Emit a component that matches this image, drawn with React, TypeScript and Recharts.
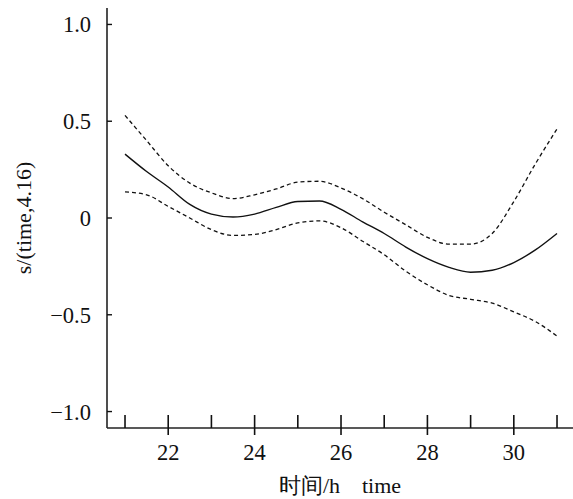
import { Line, LineChart, XAxis, YAxis } from "recharts";

const timeValues = [
  21, 21.5, 22, 22.5, 23, 23.5, 24, 24.5, 25, 25.5, 26, 26.5, 27, 27.5, 28, 28.5, 29, 29.5, 30,
  30.5, 31,
];

const fitValues = [
  0.33, 0.24, 0.16, 0.07, 0.02, 0.005, 0.02, 0.055, 0.085, 0.088, 0.045, -0.02, -0.08, -0.15,
  -0.21, -0.255, -0.28, -0.27, -0.23, -0.165, -0.08,
];

const upperValues = [
  0.53, 0.4, 0.27, 0.18, 0.13, 0.1, 0.12, 0.15, 0.185, 0.19, 0.155, 0.1, 0.03, -0.035, -0.1,
  -0.135, -0.135, -0.08, 0.085, 0.28, 0.46,
];

const lowerValues = [
  0.135, 0.12, 0.06, 0.0, -0.06, -0.09, -0.085, -0.06, -0.025, -0.015, -0.05, -0.12, -0.19,
  -0.275, -0.345, -0.4, -0.42, -0.44, -0.485, -0.535, -0.61,
];

const xTicks = [21, 22, 23, 24, 25, 26, 27, 28, 29, 30, 31];
const xLabelled = [22, 24, 26, 28, 30];
const yTicks = [-1, -0.5, 0, 0.5, 1];
const yTickLabels = ["\u22121.0", "\u22120.5", "0", "0.5", "1.0"];

const data = timeValues.map((time, i) => ({
  time,
  fit: fitValues[i],
  upper: upperValues[i],
  lower: lowerValues[i],
}));

const SERIF = "Liberation Serif";

function XTick({ x, y, payload }: any) {
  const major = xLabelled.includes(payload.value);
  return (
    <g>
      <line x1={x} x2={x} y1={y - 13} y2={major ? y + 7 : y} stroke="#111" strokeWidth={1.6} />
      {major ? (
        <text x={x} y={y + 32} textAnchor="middle" fontFamily={SERIF} fontSize={22.5} fill="#111">
          {payload.value}
        </text>
      ) : null}
    </g>
  );
}

function YTick({ x, y, payload }: any) {
  const label = yTickLabels[yTicks.indexOf(payload.value)];
  return (
    <g>
      <line x1={x} x2={x + 5} y1={y} y2={y} stroke="#111" strokeWidth={1.4} />
      <text x={x - 16} y={y + 8} textAnchor="end" fontFamily={SERIF} fontSize={22.5} fill="#111">
        {label}
      </text>
    </g>
  );
}

function XTitle({ viewBox }: any) {
  const cx = viewBox.x + viewBox.width / 2;
  return (
    <text x={cx} y={viewBox.y + 65} textAnchor="middle" fontFamily={SERIF} fontSize={22} fill="#111">
      {"时间/h\u00a0\u00a0\u00a0\u00a0time"}
    </text>
  );
}

function YTitle({ viewBox }: any) {
  const cx = viewBox.x + 23;
  const cy = viewBox.y + viewBox.height / 2;
  return (
    <text
      x={cx}
      y={cy}
      transform={`rotate(-90, ${cx}, ${cy})`}
      textAnchor="middle"
      dominantBaseline="central"
      fontFamily={SERIF}
      fontSize={22}
      fill="#111"
    >
      s/(time,4.16)
    </text>
  );
}

export default function App() {
  return (
    <div
      style={{
        position: "absolute",
        left: 0,
        top: 0,
        background: "#fff",
        fontFamily: "'Liberation Serif', serif",
      }}
    >
      <LineChart
        width={573}
        height={499}
        data={data}
        margin={{ top: 8, right: 0, bottom: 0, left: 0 }}
      >
        <XAxis
          dataKey="time"
          type="number"
          domain={[20.583, 31.37]}
          ticks={xTicks}
          allowDataOverflow
          height={71}
          tickSize={0}
          tickMargin={0}
          tickLine={false}
          axisLine={{ stroke: "#222", strokeWidth: 1.6 }}
          tick={<XTick />}
          interval={0}
          label={<XTitle />}
        />
        <XAxis
          xAxisId="top"
          orientation="top"
          dataKey="time"
          type="number"
          domain={[20.583, 31.37]}
          height={0}
          tick={false}
          tickLine={false}
          axisLine={{ stroke: "#555", strokeWidth: 1.6 }}
        />
        <YAxis
          type="number"
          domain={[-1.085, 1.085]}
          ticks={yTicks}
          allowDataOverflow
          width={107}
          tickSize={0}
          tickMargin={0}
          tickLine={false}
          axisLine={{ stroke: "#222", strokeWidth: 1.6 }}
          tick={<YTick />}
          interval={0}
          label={<YTitle />}
        />
        <Line
          dataKey="upper"
          type="monotone"
          stroke="#111"
          strokeWidth={1.3}
          strokeDasharray="4 3"
          dot={false}
          isAnimationActive={false}
        />
        <Line
          dataKey="fit"
          type="monotone"
          stroke="#111"
          strokeWidth={1.4}
          dot={false}
          isAnimationActive={false}
        />
        <Line
          dataKey="lower"
          type="monotone"
          stroke="#111"
          strokeWidth={1.3}
          strokeDasharray="4 3"
          dot={false}
          isAnimationActive={false}
        />
      </LineChart>
    </div>
  );
}
